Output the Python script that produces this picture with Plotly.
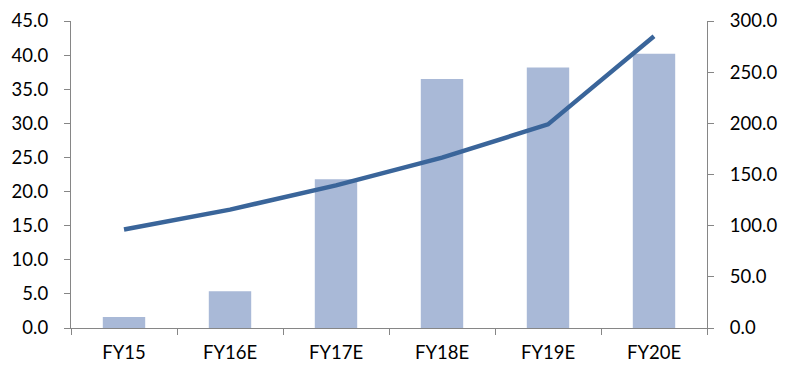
import plotly.graph_objects as go

categories = ["FY15", "FY16E", "FY17E", "FY18E", "FY19E", "FY20E"]
bar_values = [1.6, 5.4, 21.8, 36.5, 38.2, 40.2]
line_values = [96.2, 115.7, 139.4, 166.5, 199.0, 285.0]
left_ticks = [0, 5, 10, 15, 20, 25, 30, 35, 40, 45]
right_ticks = [0, 50, 100, 150, 200, 250, 300]

FONT = dict(family="Lato, Open Sans, sans-serif", size=18.5, color="#000000")
AXIS = "#868686"

fig = go.Figure()
fig.add_trace(go.Bar(x=categories, y=bar_values, marker=dict(color="#A9B9D7", line=dict(width=0)),
                     yaxis="y", showlegend=False))
fig.add_trace(go.Scatter(x=categories, y=line_values, mode="lines",
                         line=dict(color="#3A659A", width=4.5), yaxis="y2", showlegend=False))

fig.update_layout(
    width=788, height=365,
    margin=dict(l=71, r=81, t=21, b=37),
    paper_bgcolor="white", plot_bgcolor="white",
    bargap=0.6,
    font=FONT,
    xaxis=dict(type="category", showline=True, linecolor=AXIS, linewidth=1.3,
               ticks="outside", tickson="boundaries", ticklen=6, tickcolor=AXIS,
               tickfont=FONT, showgrid=False, zeroline=False, automargin=False,
               ticklabelstandoff=8),
    yaxis=dict(range=[0, 45], tickvals=left_ticks, tickformat=".1f",
               showline=True, linecolor=AXIS, linewidth=1.3,
               ticks="outside", ticklen=6, tickcolor=AXIS, automargin=False,
               tickfont=FONT, showgrid=False, zeroline=False,
               ticklabelstandoff=12),
    yaxis2=dict(range=[0, 300], tickvals=right_ticks, tickformat=".1f",
                overlaying="y", side="right",
                showline=True, linecolor=AXIS, linewidth=1.3,
                ticks="outside", ticklen=6, tickcolor=AXIS, automargin=False,
                tickfont=FONT, showgrid=False, zeroline=False,
                ticklabelstandoff=12),
)

fig.write_html("out.html")
